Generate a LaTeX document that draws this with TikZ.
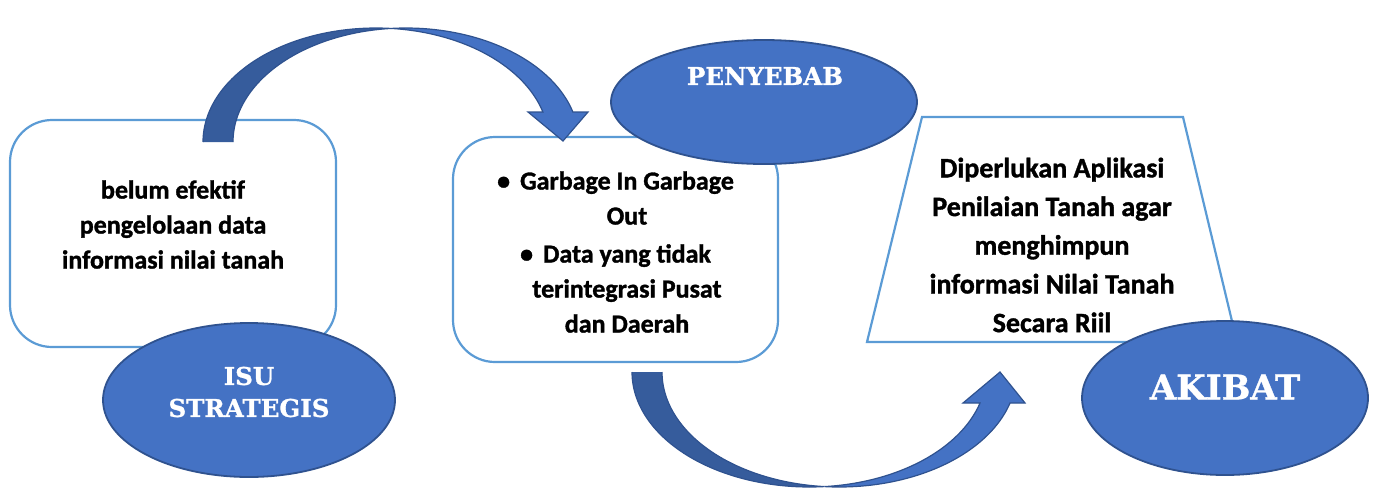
\documentclass[tikz,border=0pt]{standalone}
\usepackage{fontspec}
\setmainfont{Carlito}[BoldFont={Carlito Bold}, BoldFeatures={FakeBold=1.3}]
\newfontfamily\labelfont{DejaVu Serif}[BoldFont={DejaVu Serif Bold}, BoldFeatures={FakeBold=1}]
\usetikzlibrary{shapes.geometric}
\definecolor{boxline}{HTML}{5B9BD5}
\definecolor{ovalfill}{HTML}{4472C4}
\definecolor{ovalline}{HTML}{2F528F}
\definecolor{arrowback}{HTML}{365C9C}
\tikzset{
  roundbox/.style={draw=boxline, line width=2.2pt, fill=white, rounded corners=42pt},
  oval/.style={ellipse, draw=ovalline, line width=1.8pt, fill=ovalfill, inner sep=0pt},
  ovaltext/.style={text=white, font=\labelfont\bfseries\fontsize{24.5}{32}\selectfont, align=center},
  bodytext/.style={font=\bfseries\fontsize{26}{35}\selectfont, align=center, text=black},
  arrowfront/.style={fill=ovalfill, draw=ovalline, line width=1.2pt, line join=miter},
}
\begin{document}
\begin{tikzpicture}[x=1pt, y=-1pt]
\useasboundingbox (0,0) rectangle (1387,488);

% --- boxes -------------------------------------------------------------
\node[roundbox, minimum width=326pt, minimum height=227pt] (isubox) at (173,233.5) {};
\node[roundbox, minimum width=325pt, minimum height=225pt] (causebox) at (615.5,249.5) {};

% trapezium holding the consequence
\coordinate (tl) at (922,117);
\coordinate (tr) at (1183,117);
\coordinate (br) at (1237,342);
\coordinate (bl) at (867,342);
\draw[draw=boxline, line width=2.2pt, fill=white] (tl) -- (tr) -- (br) -- (bl) -- cycle;

% --- texts inside the boxes -------------------------------------------
\node[bodytext] (isutext) at (173,224.5) {belum efektif\\pengelolaan data\\informasi nilai tanah};
\node[bodytext] (causetext) at (627,252) {\llap{\textbullet\hspace{10pt}}Garbage In Garbage\\Out\\[3pt]
  \llap{\textbullet\hspace{10pt}}Data yang tidak\\terintegrasi Pusat\\dan Daerah};
\node[bodytext, font=\bfseries\fontsize{28}{38.7}\selectfont] (effecttext) at (1052,245)
  {Diperlukan Aplikasi\\Penilaian Tanah agar\\menghimpun\\informasi Nilai Tanah\\Secara Riil};

% --- upper curved arrow (issue -> cause) -------------------------------
\def\ry{114}
\fill[arrowback] plot[domain=180:85.03, samples=60] ({376+173*cos(\x)},{142-\ry*sin(\x)})
  -- plot[domain=94.97:180, samples=60] ({406+173*cos(\x)},{142-\ry*sin(\x)}) -- cycle;
\draw[ovalline, line width=1.2pt] plot[domain=180:85.03, samples=60] ({376+173*cos(\x)},{142-\ry*sin(\x)})
  -- plot[domain=94.97:180, samples=60] ({406+173*cos(\x)},{142-\ry*sin(\x)});
\coordinate (tipA) at (563,141);
\filldraw[arrowfront] plot[domain=85.03:15.26, samples=60] ({376+173*cos(\x)},{142-\ry*sin(\x)})
  -- (528,112) -- (tipA) -- (588,112)
  -- plot[domain=15.26:94.97, samples=60] ({406+173*cos(\x)},{142-\ry*sin(\x)}) -- cycle;

% --- lower curved arrow (cause -> effect) ------------------------------
\def\rb{115}
\fill[arrowback] plot[domain=180:85.15, samples=60] ({809.3+177.3*cos(\x)},{372+\rb*sin(\x)})
  -- plot[domain=94.85:180, samples=60] ({839.3+177.3*cos(\x)},{372+\rb*sin(\x)}) -- cycle;
\draw[ovalline, line width=1.2pt] plot[domain=180:85.15, samples=60] ({809.3+177.3*cos(\x)},{372+\rb*sin(\x)})
  -- plot[domain=94.85:180, samples=60] ({839.3+177.3*cos(\x)},{372+\rb*sin(\x)});
\coordinate (tipB) at (1000,372);
\filldraw[arrowfront] plot[domain=85.15:15.64, samples=60] ({809.3+177.3*cos(\x)},{372+\rb*sin(\x)})
  -- (963,403) -- (tipB) -- (1025,403)
  -- plot[domain=15.64:94.85, samples=60] ({839.3+177.3*cos(\x)},{372+\rb*sin(\x)}) -- cycle;

% --- ovals -------------------------------------------------------------
\node[oval, minimum width=292pt, minimum height=154pt] (isu) at (249,400) {};
\node[ovaltext] (isulabel) at (249,392) {ISU\\STRATEGIS};

\node[oval, minimum width=306pt, minimum height=124pt] (penyebab) at (764,102) {};
\node[ovaltext] (penyebablabel) at (765,76) {PENYEBAB};

\node[oval, minimum width=286pt, minimum height=154pt] (akibat) at (1225,398) {};
\node[ovaltext, font=\labelfont\bfseries\fontsize{34}{40}\selectfont] (akibatlabel) at (1225,387) {AKIBAT};
\end{tikzpicture}
\end{document}
